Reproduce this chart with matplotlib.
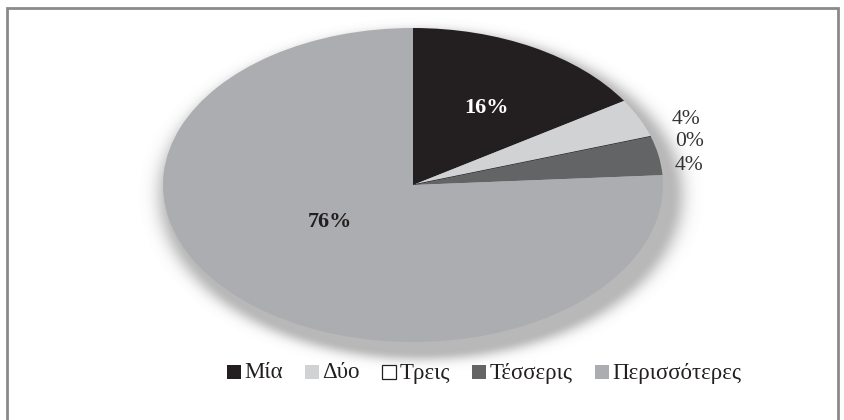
import numpy as np
import matplotlib
matplotlib.use("Agg")
import matplotlib.pyplot as plt
from matplotlib.patches import Rectangle

# ---- data ----
categories = ["Μία", "Δύο", "Τρεις", "Τέσσερις", "Περισσότερες"]
values = [16, 4, 0, 4, 76]
colors = ["#231f20", "#d1d2d4", "#ffffff", "#636466", "#acadb0"]

plt.rcParams['font.family'] = ['Liberation Serif', 'DejaVu Serif']

W, H = 845, 420
fig = plt.figure(figsize=(W / 100, H / 100), dpi=100)

# background axes in pixel coordinates
bg = fig.add_axes([0, 0, 1, 1])
bg.set_xlim(0, W)
bg.set_ylim(H, 0)
bg.axis('off')

# pie geometry (pixels)
cx, cy, rx, ry = 413, 185, 250, 157

# soft shadow
yy, xx = np.mgrid[0:H, 0:W] + 0.5
dx, dy = 8, 10
rr = np.sqrt(((xx - cx - dx) / rx) ** 2 + ((yy - cy - dy) / ry) ** 2)
dist = (rr - 1) * np.sqrt(rx * ry)
sigma = 12.0
alpha = np.where(dist < 0, 1.0, np.exp(-(dist / sigma) ** 2)) * 0.5
img = np.zeros((H, W, 4))
img[..., :3] = 0.45
img[..., 3] = alpha
bg.imshow(img, extent=(0, W, H, 0), zorder=1, interpolation='bilinear')

# frame
bg.plot([7, 7, 838, 838], [H + 5, 8, 8, H + 5], color="#8a8a8a", lw=2, zorder=5,
        solid_joinstyle='miter')

# pie axes (elliptical)
pax = fig.add_axes([(cx - rx) / W, (H - cy - ry) / H, 2 * rx / W, 2 * ry / H])
pax.set_zorder(2)
wedges, _ = pax.pie(values, colors=colors, startangle=90, counterclock=False,
                    radius=1.0, wedgeprops=dict(linewidth=0))
for w in wedges:
    w.set_edgecolor('none')
wedges[2].set_edgecolor('#231f20')
wedges[2].set_linewidth(0.8)
pax.set_aspect('auto')
pax.set_xlim(-1, 1)
pax.set_ylim(-1, 1)
pax.axis('off')
pax.patch.set_visible(False)

def to_ax(px, py):
    return (px - cx) / rx, (cy - py) / ry

label_pos = [(487, 108), (686, 119), (690, 142), (689, 166), (330, 222)]
label_style = [
    dict(color='white', fontweight='bold', fontsize=16),
    dict(color='#333335', fontsize=15.5),
    dict(color='#333335', fontsize=15.5),
    dict(color='#333335', fontsize=15.5),
    dict(color='#231f20', fontweight='bold', fontsize=16),
]
for v, p, st in zip(values, label_pos, label_style):
    u, w_ = to_ax(*p)
    pax.text(u, w_, f"{v}%", ha='center', va='center', clip_on=False, **st)

# legend (manual, spaced to fill 227..741 px)
leg_left, leg_right = 227, 741
leg_y = 372
sq = 14
pad = 3
texts = [bg.text(0, leg_y + 1, name, ha='left', va='center', fontsize=16.5,
                 color='#231f20', zorder=6) for name in categories]
fig.canvas.draw()
r = fig.canvas.get_renderer()
widths = [t.get_window_extent(r).width for t in texts]
total = sum(widths) + len(categories) * (sq + pad)
gap = (leg_right - leg_left - total) / (len(categories) - 1)
x = leg_left
for t, col, wdt in zip(texts, colors, widths):
    ec = '#231f20' if col == '#ffffff' else 'none'
    bg.add_patch(Rectangle((x, leg_y - sq / 2), sq, sq, facecolor=col,
                           edgecolor=ec, lw=0.9, zorder=6))
    t.set_x(x + sq + pad)
    x += sq + pad + wdt + gap

fig.savefig("out.png", dpi=100, facecolor='white')
